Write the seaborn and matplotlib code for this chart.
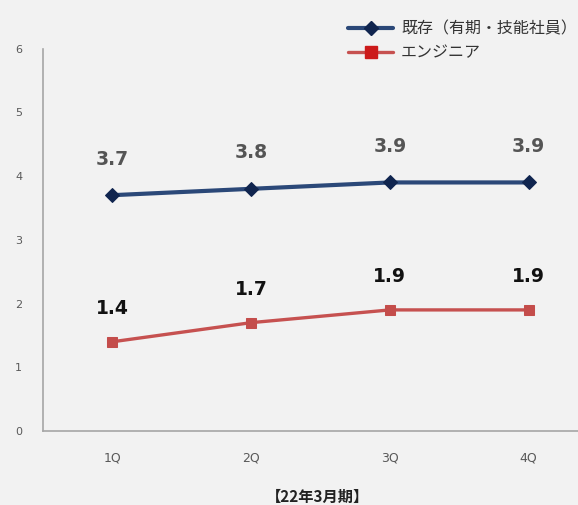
import matplotlib
matplotlib.use("Agg")
import matplotlib.pyplot as plt
import seaborn as sns
import pandas as pd

# Quarterly values for the two staff groups
quarters = ["1Q", "2Q", "3Q", "4Q"]
existing_staff = [3.7, 3.8, 3.9, 3.9]
engineers = [1.4, 1.7, 1.9, 1.9]
series_names = ["既存（有期・技能社員）", "エンジニア"]
y_ticks = [0, 1, 2, 3, 4, 5, 6]
period_label = "【22年3月期】"

bg = "#f2f2f2"
navy_line = "#2b4878"
navy_marker = "#10254f"
red_line = "#c65150"
red_marker = "#c44d4b"

sns.set_theme(style="white")
plt.rcParams["font.family"] = ["DejaVu Sans", "Noto Sans CJK JP"]
jp_fonts = ["Noto Sans CJK JP", "DejaVu Sans"]

df = pd.DataFrame({
    "quarter": quarters * 2,
    "x": list(range(len(quarters))) * 2,
    "value": existing_staff + engineers,
    "series": [series_names[0]] * len(quarters) + [series_names[1]] * len(quarters),
})

fig = plt.figure(figsize=(5.78, 5.05), dpi=100, facecolor=bg)
ax = fig.add_axes([43 / 578, 74 / 505, 555 / 578, 382.4 / 505])
ax.set_facecolor(bg)

sns.lineplot(
    data=df, x="x", y="value", hue="series", style="series",
    palette={series_names[0]: navy_line, series_names[1]: red_line},
    markers={series_names[0]: "D", series_names[1]: "s"},
    dashes=False, ax=ax, legend=False,
)

# Style lines and markers per series
for line, mc, lw, ms in zip(ax.lines, [navy_marker, red_marker], [3.0, 2.4], [7.0, 7.5]):
    line.set_linewidth(lw)
    line.set_markerfacecolor(mc)
    line.set_markeredgecolor(mc)
    line.set_markersize(ms)

# Value labels above each point
for xi, v in enumerate(existing_staff):
    ax.annotate(f"{v:.1f}", (xi, v), xytext=(0, 26), textcoords="offset points",
                ha="center", va="center", fontsize=13.5, fontweight="bold", color="#555555")
for xi, v in enumerate(engineers):
    ax.annotate(f"{v:.1f}", (xi, v), xytext=(0, 24), textcoords="offset points",
                ha="center", va="center", fontsize=13.5, fontweight="bold", color="#111111")

ax.set_xlim(-0.5, 3.5)
ax.set_ylim(0, 6)
ax.set_xticks(range(len(quarters)))
ax.set_xticklabels(quarters)
ax.set_yticks(y_ticks)
ax.set_yticklabels([str(t) for t in y_ticks])
ax.tick_params(axis="y", length=0, pad=15, labelsize=8, labelcolor="#595959")
ax.tick_params(axis="x", length=0, pad=15, labelsize=9, labelcolor="#595959")
ax.set_xlabel("")
ax.set_ylabel("")

for side in ["top", "right"]:
    ax.spines[side].set_visible(False)
for side in ["left", "bottom"]:
    ax.spines[side].set_color("#a6a6a6")
    ax.spines[side].set_linewidth(1.2)

# Legend in the upper right corner
handles = [
    plt.Line2D([], [], color=navy_line, lw=3.0, marker="D", markersize=7.5,
               markerfacecolor=navy_marker, markeredgecolor=navy_marker),
    plt.Line2D([], [], color=red_line, lw=2.4, marker="s", markersize=8.5,
               markerfacecolor="#cc1a1a", markeredgecolor="#cc1a1a"),
]
fig.legend(handles, series_names, loc="upper left",
           bbox_to_anchor=(334 / 578, 1 - 6 / 505), frameon=False,
           handlelength=2.8, handletextpad=0.5, labelspacing=0.45,
           prop={"family": jp_fonts, "size": 11.5}, labelcolor="#333333")

fig.text(317 / 578, 1 - 497 / 505, period_label, ha="center", va="center",
         fontsize=11, fontweight="bold", family=jp_fonts, color="#222222")

fig.savefig("out.png", dpi=100, facecolor=bg)
